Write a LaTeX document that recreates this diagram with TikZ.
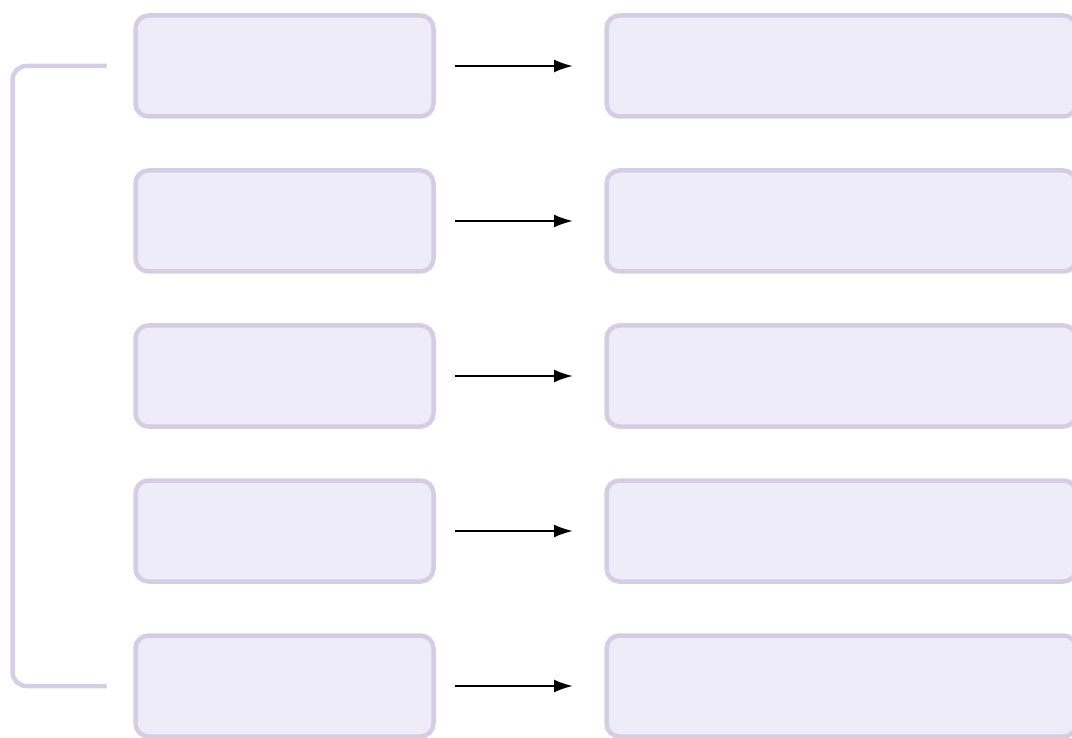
\documentclass[tikz,border=0pt]{standalone}
\usetikzlibrary{%
    arrows.meta,
    positioning
}
\definecolor{boxfill}{RGB}{238,236,248}
\definecolor{boxline}{RGB}{213,205,228}
\tikzset{
    headarrow/.style = {-{Latex[length=19pt,width=13pt]}, line width=2.2pt},
    box/.style = {draw=boxline, fill=boxfill, line width=4.5pt,
        rounded corners=13pt, outer sep=0pt, minimum height=101pt},
    lbox/.style = {box, minimum width=298pt},
    rbox/.style = {box, minimum width=470pt},
    bracket/.style = {draw=boxline, line width=4.5pt, rounded corners=14pt}
}

\begin{document}
\begin{tikzpicture}[x=1pt,y=1pt]
    \useasboundingbox (0,0) rectangle (1072,-738);

    \node[lbox] (l1) at (284.5,-66) {};
    \node[lbox] (l2) [below=54pt of l1] {};
    \node[lbox] (l3) [below=54pt of l2] {};
    \node[lbox] (l4) [below=54pt of l3] {};
    \node[lbox] (l5) [below=54pt of l4] {};

    \node[rbox] (r1) [right=173pt of l1] {};
    \node[rbox] (r2) [right=173pt of l2] {};
    \node[rbox] (r3) [right=173pt of l3] {};
    \node[rbox] (r4) [right=173pt of l4] {};
    \node[rbox] (r5) [right=173pt of l5] {};

    \foreach \x in {1,...,5}
    \draw[headarrow, shorten <=21.5pt, shorten >=33.5pt] (l\x) -- (r\x);

    \draw[bracket] ([xshift=-29pt]l1.west) -- ++(-94pt,0)
        |- ([xshift=-29pt]l5.west);
\end{tikzpicture}
\end{document}
